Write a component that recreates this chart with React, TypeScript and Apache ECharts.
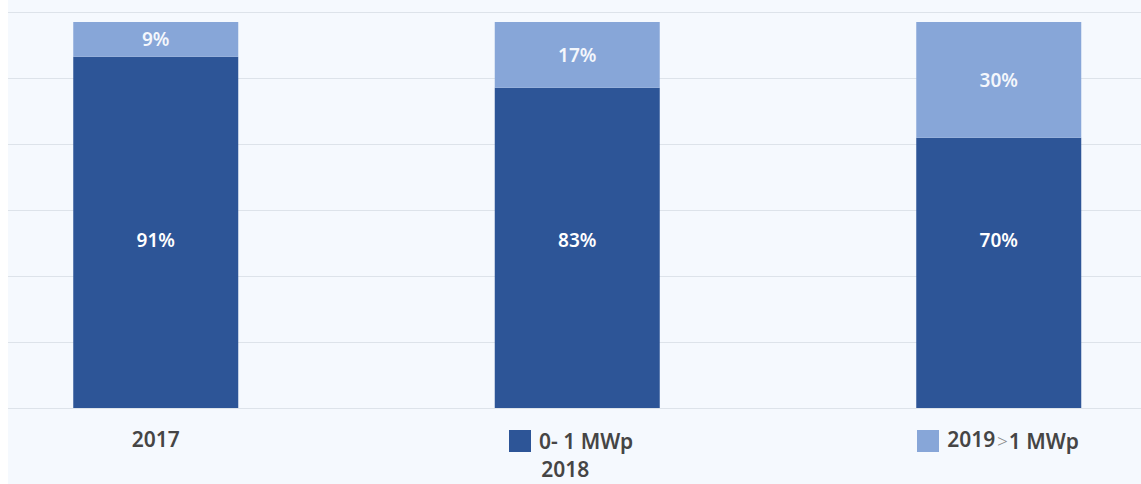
import React, { useEffect, useRef } from "react";
import * as echarts from "echarts";

const categories = ["2017", "2018", "2019"];
const seriesNames = ["0- 1 MWp", ">1 MWp"];
const smallShare = [91, 83, 70];
const largeShare = [9, 17, 30];

const FONT = "'Noto Sans', 'Open Sans', sans-serif";
const TEXT = "#454545";
const DARK = "#2d5597";
const LIGHT = "#87a6d8";
const GRID = "#dde3ea";
const BG = "#f5f9fe";

export default function App() {
  const ref = useRef<HTMLDivElement>(null);
  useEffect(() => {
    if (!ref.current) return;
    const chart = echarts.init(ref.current, null, { renderer: "svg" });
    const legendText = {
      fontSize: 21,
      fontWeight: 600,
      color: TEXT,
      fontFamily: FONT,
    };
    chart.setOption({
      animation: false,
      backgroundColor: BG,
      textStyle: { fontFamily: FONT },
      grid: { left: 0, right: 0.5, top: 12, bottom: 76 },
      legend: [
        {
          data: [seriesNames[0]],
          left: 564,
          top: 430,
          padding: 0,
          icon: "rect",
          itemWidth: 22,
          itemHeight: 22,
          textStyle: { ...legendText, padding: [0, 0, 0, 3] },
        },
        {
          data: [seriesNames[1]],
          left: 972,
          top: 430,
          padding: 0,
          icon: "rect",
          itemWidth: 22,
          itemHeight: 22,
          formatter: (name: string) => `{g|${name.charAt(0)}}{t|${name.slice(1)}}`,
          textStyle: {
            ...legendText,
            padding: [0, 0, 0, 53],
            rich: {
              g: { fontSize: 19, fontWeight: 300, color: "#8a8a8a", fontFamily: FONT, padding: [0, 1, 0, 0] },
              t: { ...legendText },
            },
          },
        },
      ],
      xAxis: {
        type: "category",
        data: categories,
        axisTick: { show: false },
        axisLine: { lineStyle: { color: GRID, width: 1 } },
        axisLabel: {
          margin: 20,
          formatter: (v: string, i: number) =>
            i === 0 ? `{a|${v}}` : i === 1 ? `{b|${v}}` : `{c|${v}}`,
          rich: {
            a: { ...legendText },
            b: { ...legendText, padding: [30, 24, 0, 0] },
            c: { ...legendText, padding: [0, 55, 0, 0] },
          },
        },
      },
      yAxis: {
        type: "value",
        min: 0,
        max: 102.6,
        interval: 17.1,
        axisLabel: { show: false },
        axisLine: { show: false },
        axisTick: { show: false },
        splitLine: { lineStyle: { color: GRID, width: 1 } },
      },
      series: [
        {
          name: seriesNames[0],
          type: "bar",
          stack: "total",
          barWidth: 165,
          data: smallShare,
          itemStyle: { color: DARK },
          label: {
            show: true,
            position: "insideBottom",
            distance: 159,
            formatter: "{c}%",
            color: "#ffffff",
            fontSize: 19,
            fontWeight: 600,
            fontFamily: FONT,
          },
        },
        {
          name: seriesNames[1],
          type: "bar",
          stack: "total",
          barWidth: 165,
          data: largeShare,
          itemStyle: { color: LIGHT },
          label: {
            show: true,
            position: "inside",
            formatter: "{c}%",
            color: "#f4f7fc",
            fontSize: 19,
            fontWeight: 600,
            fontFamily: FONT,
          },
        },
      ],
    });
    return () => chart.dispose();
  }, []);
  return (
    <div
      style={{
        position: "absolute",
        left: 8,
        top: 0,
        width: 1133,
        height: 484,
        overflow: "hidden",
        background: BG,
      }}
    >
      <div
        ref={ref}
        style={{ position: "absolute", left: -63, top: 0, width: 1265, height: 484 }}
      />
    </div>
  );
}
